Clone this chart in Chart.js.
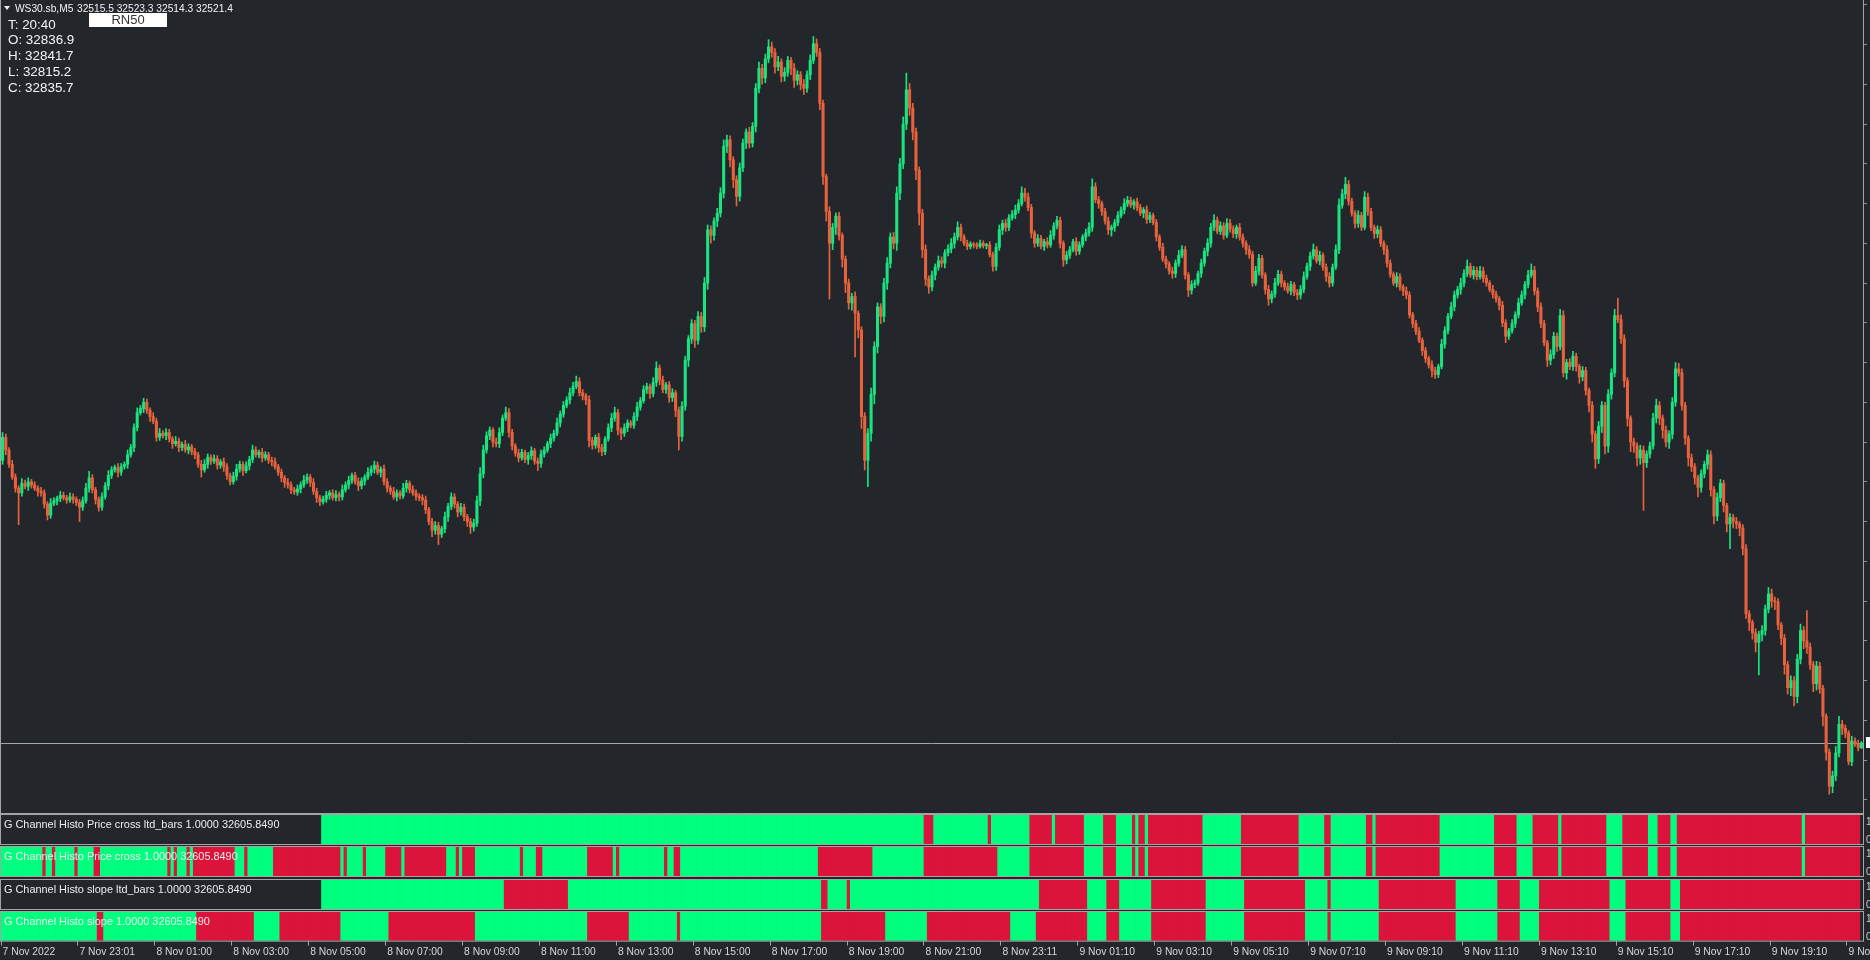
<!DOCTYPE html>
<html>
<head>
<meta charset="utf-8">
<title>WS30.sb,M5</title>
<script src="https://cdn.jsdelivr.net/npm/chart.js@4.4.1/dist/chart.umd.min.js"></script>
<style>
  html, body { margin:0; padding:0; width:1870px; height:960px; overflow:hidden; background:#23272c; }
  canvas { position:absolute; left:0; display:block; }
  .txt { position:absolute; white-space:nowrap; font-family:"Liberation Sans", Arial, sans-serif; color:#f2f2f2; }
  .pl { font-size:10.9px; line-height:12px; color:#ececec; left:4px; }
  .ax { font-size:10px; line-height:12px; color:#cfcfcf; left:1866px; }
</style>
</head>
<body>
<canvas id="main" width="1870" height="814" style="top:0px"></canvas>
<canvas id="p0" width="1870" height="31" style="top:814px"></canvas>
<canvas id="p1" width="1870" height="31" style="top:846px"></canvas>
<canvas id="p2" width="1870" height="31" style="top:879px"></canvas>
<canvas id="p3" width="1870" height="49" style="top:911px"></canvas>

<div class="txt" style="left:4px;top:6px;width:0;height:0;border-left:3.5px solid transparent;border-right:3.5px solid transparent;border-top:4px solid #f0f0f0"></div>
<div class="txt" style="left:15px;top:2.6px;font-size:10.2px;line-height:12px">WS30.sb,M5</div>
<div class="txt" style="left:77px;top:2.6px;font-size:10.2px;line-height:12px">32515.5 32523.3 32514.3 32521.4</div>
<div class="txt" style="left:89px;top:13px;width:78px;height:14px;background:#ffffff;color:#333;font-size:13px;line-height:14px;text-align:center">RN50</div>
<div class="txt" style="left:8px;top:16.5px;font-size:13.4px;line-height:15.85px">T: 20:40<br>O: 32836.9<br>H: 32841.7<br>L: 32815.2<br>C: 32835.7</div>

<div class="txt pl" style="top:817.6px">G Channel Histo Price cross ltd_bars 1.0000 32605.8490</div>
<div class="txt pl" style="top:849.6px">G Channel Histo Price cross 1.0000 32605.8490</div>
<div class="txt pl" style="top:882.6px">G Channel Histo slope ltd_bars 1.0000 32605.8490</div>
<div class="txt pl" style="top:914.6px">G Channel Histo slope 1.0000 32605.8490</div>
<div class="txt ax" style="top:816px">1</div><div class="txt ax" style="top:834px">0</div>
<div class="txt ax" style="top:848px">1</div><div class="txt ax" style="top:866px">0</div>
<div class="txt ax" style="top:881px">1</div><div class="txt ax" style="top:899px">0</div>
<div class="txt ax" style="top:913px">1</div><div class="txt ax" style="top:931px">0</div>

<script>
// ---------------- DATA ----------------
// WS30 M5 bars, 7 Nov 2022 ~21:00 -> 9 Nov 2022 ~21:20 (581 bars)
const firstOpen = 32877;
const closes = [
32906,32890,32872,32856,32842,32836,32848,32844,32850,32846,
32842,32838,32836,32822,32808,32823,32826,32829,32833,32830,
32827,32831,32828,32824,32818,32826,32842,32855,32840,32828,
32818,32831,32845,32858,32865,32868,32862,32869,32872,32884,
32893,32918,32937,32942,32950,32940,32932,32926,32906,32911,
32908,32912,32904,32898,32901,32893,32897,32890,32894,32888,
32884,32872,32865,32872,32881,32876,32879,32871,32875,32869,
32858,32850,32857,32866,32872,32864,32870,32878,32890,32884,
32887,32880,32884,32877,32875,32869,32862,32855,32849,32846,
32840,32837,32841,32846,32852,32856,32849,32838,32830,32825,
32828,32833,32836,32830,32834,32831,32840,32846,32852,32858,
32850,32845,32851,32856,32862,32866,32871,32862,32866,32850,
32842,32838,32831,32836,32832,32842,32848,32840,32836,32832,
32830,32827,32815,32800,32789,32795,32784,32791,32806,32819,
32831,32822,32812,32818,32806,32800,32793,32798,32826,32860,
32890,32908,32915,32900,32898,32912,32930,32937,32912,32895,
32886,32880,32887,32878,32883,32889,32876,32873,32885,32890,
32898,32905,32911,32924,32935,32946,32953,32962,32970,32976,
32962,32958,32953,32902,32896,32906,32893,32888,32904,32918,
32930,32937,32915,32911,32918,32924,32921,32932,32944,32952,
32966,32970,32961,32975,32993,32978,32966,32972,32956,32962,
32940,32907,32945,33003,33030,33049,33028,33058,33045,33100,
33167,33160,33178,33188,33213,33272,33280,33255,33230,33209,
33245,33276,33290,33276,33297,33345,33370,33358,33382,33397,
33390,33372,33378,33360,33365,33380,33370,33355,33362,33350,
33345,33362,33380,33401,33390,33326,33234,33190,33150,33170,
33184,33160,33130,33100,33075,33083,33062,33041,32932,32877,
32911,32960,33020,33070,33058,33100,33125,33158,33150,33213,
33250,33300,33343,33320,33290,33242,33188,33142,33105,33095,
33110,33120,33128,33125,33138,33143,33150,33158,33170,33158,
33150,33146,33149,33148,33146,33150,33147,33148,33136,33121,
33145,33167,33175,33170,33182,33186,33192,33200,33213,33208,
33195,33163,33150,33156,33146,33152,33148,33160,33172,33179,
33150,33129,33135,33142,33152,33140,33148,33158,33163,33170,
33221,33205,33200,33190,33178,33167,33170,33176,33185,33192,
33200,33204,33198,33202,33195,33188,33192,33180,33185,33176,
33158,33145,33130,33124,33115,33112,33125,33135,33142,33110,
33091,33098,33100,33112,33125,33140,33150,33170,33179,33165,
33172,33160,33175,33168,33162,33170,33158,33150,33142,33136,
33100,33115,33131,33110,33092,33080,33086,33100,33111,33100,
33095,33090,33098,33088,33085,33092,33108,33121,33134,33142,
33128,33135,33120,33108,33100,33120,33142,33198,33212,33224,
33203,33188,33175,33185,33170,33208,33190,33170,33162,33167,
33150,33142,33125,33111,33100,33108,33095,33090,33085,33060,
33049,33039,33028,33015,33005,32997,32990,32985,32995,33023,
33040,33058,33070,33085,33092,33100,33112,33121,33110,33116,
33108,33115,33106,33100,33092,33086,33080,33072,33050,33033,
33040,33049,33060,33075,33085,33098,33110,33116,33090,33070,
33049,33025,33003,33010,33033,33020,33059,32987,33000,32995,
33008,32995,32982,32990,32965,32946,32910,32879,32920,32946,
32895,32960,32987,33059,33054,33030,32977,32930,32900,32895,
32880,32890,32874,32885,32895,32930,32946,32930,32915,32900,
32910,32950,32992,32987,32946,32905,32880,32869,32855,32843,
32860,32872,32884,32840,32807,32830,32848,32820,32797,32805,
32800,32797,32792,32766,32684,32673,32660,32648,32658,32663,
32690,32709,32700,32699,32670,32653,32620,32591,32600,32580,
32627,32663,32650,32642,32620,32596,32618,32590,32555,32510,
32467,32480,32509,32545,32540,32534,32498,32524,32520,32515.5,
32521.4
];
// upper wick length (points above the body) per bar
const upWick = [
6,4,3,5,4,3,6,4,5,3,4,3,5,4,3,6,4,3,5,4,
3,5,4,3,4,5,6,8,4,3,3,5,4,6,4,3,5,4,3,6,
4,5,6,4,5,4,3,5,4,6,3,5,4,3,6,4,3,5,4,3,
4,3,5,6,4,3,5,4,3,5,4,3,5,6,4,3,5,4,6,4,
3,5,4,3,4,5,3,4,3,5,4,3,5,4,6,4,3,5,4,3,
4,5,3,4,5,3,6,4,5,3,4,5,4,3,6,4,5,4,3,5,
4,3,5,4,3,6,4,3,5,4,3,4,5,3,4,5,4,3,6,4,
5,4,3,5,4,3,4,5,6,8,6,5,4,3,5,6,4,7,5,4,
3,5,4,3,4,5,3,4,5,4,3,5,4,6,4,5,4,6,5,7,
5,4,3,5,4,3,5,4,3,5,6,7,4,3,5,4,3,5,6,4,
5,4,3,6,8,4,5,3,4,5,3,4,6,5,4,5,4,6,5,7,
6,5,4,6,7,8,6,5,4,5,6,5,4,6,5,6,8,5,6,9,
6,5,7,4,6,5,4,6,5,4,6,5,7,9,6,5,4,3,6,5,
4,5,3,4,5,4,6,3,4,5,6,8,6,5,4,6,7,5,6,8,
7,9,21,8,6,5,4,5,6,4,5,4,6,5,4,5,6,5,7,4,
3,4,3,2,3,4,3,2,4,3,5,6,4,5,4,5,6,5,8,6,
5,4,3,5,4,3,5,6,4,5,4,3,5,4,3,5,4,3,5,6,
10,5,4,3,4,5,3,4,5,4,6,5,4,3,5,4,3,5,4,3,
4,3,5,4,3,5,4,6,5,4,3,5,4,3,5,4,6,5,7,4,
5,4,6,5,4,3,5,4,3,5,4,6,5,4,3,5,4,6,5,4,
3,5,4,3,4,5,6,4,5,7,4,5,3,4,5,4,6,8,6,9,
5,4,3,6,4,7,5,4,3,5,4,3,5,4,3,5,4,3,5,4,
3,4,5,3,4,3,5,4,3,6,5,4,6,5,4,6,5,8,4,5,
4,6,5,4,3,5,4,3,5,4,3,5,4,6,5,4,6,8,5,4,
5,4,3,6,5,4,8,6,4,5,6,4,3,5,4,3,5,4,6,5,
4,6,5,8,22,6,5,4,3,5,4,6,5,4,5,6,8,5,4,5,
4,6,8,7,5,4,3,5,4,3,5,4,6,5,4,6,5,4,3,5,
4,5,3,4,5,4,3,5,4,6,5,8,6,5,4,3,5,4,6,5,
6,8,5,38,5,4,6,5,4,3,4,6,8,10,5,4,3,6,4,5,
1.9
];
// lower wick length (points below the body) per bar
const dnWick = [
5,6,4,3,5,40,4,3,5,4,3,6,4,5,6,4,3,5,4,3,
4,3,5,4,18,4,3,5,4,6,5,4,3,5,4,3,6,4,3,5,
3,5,4,3,5,4,6,3,5,4,3,5,4,6,3,5,4,3,5,4,
5,4,9,3,5,4,3,5,4,6,5,4,3,5,4,6,3,5,4,3,
4,5,3,4,5,3,4,5,6,4,5,3,4,5,3,4,5,4,6,5,
3,4,5,3,4,5,4,3,5,4,3,6,4,5,3,4,5,3,6,4,
5,4,3,5,4,3,5,4,3,5,4,6,5,4,8,5,13,4,5,6,
4,5,6,4,5,6,8,5,4,6,5,4,5,6,4,5,4,3,6,5,
4,5,3,4,6,5,4,9,5,4,3,5,4,3,5,4,3,5,4,3,
4,5,6,8,5,4,6,5,4,3,5,4,6,8,4,5,3,4,5,4,
3,5,6,4,5,6,4,5,6,5,8,17,6,5,8,6,9,5,7,6,
8,10,6,7,5,6,8,9,10,12,6,5,7,6,5,7,6,8,6,5,
6,8,5,7,6,5,8,9,6,7,8,5,6,4,5,8,10,12,70,8,
9,6,10,12,8,9,55,10,15,12,33,10,12,8,9,7,8,6,7,9,
8,6,7,9,10,12,15,10,8,8,5,6,4,5,6,4,5,6,4,5,
3,4,3,4,3,2,3,4,3,6,5,4,6,5,4,3,5,4,3,5,
4,6,5,4,3,5,4,3,5,4,6,8,5,4,3,5,4,3,5,4,
5,4,6,5,4,6,8,5,4,3,5,4,3,5,4,3,6,5,4,3,
5,4,3,5,4,6,5,4,3,5,8,5,4,3,5,4,6,5,4,3,
4,5,3,4,5,6,4,5,6,5,4,3,5,4,6,8,5,4,3,5,
4,3,5,4,6,5,4,3,5,4,3,5,4,6,5,4,3,5,4,6,
5,4,6,5,4,3,5,4,6,5,4,6,5,4,3,5,4,6,5,4,
5,4,3,6,5,4,8,5,4,3,5,4,3,5,4,6,5,4,3,5,
4,3,5,4,3,5,4,6,5,8,4,3,5,4,3,5,4,3,5,6,
5,4,8,6,5,6,4,5,8,4,5,6,8,5,6,8,10,12,6,8,
10,8,6,5,4,6,8,10,12,8,10,8,60,6,5,4,6,8,10,6,
8,6,5,4,6,8,10,6,8,12,6,5,6,8,10,6,5,8,10,31,
8,6,10,8,6,10,8,12,41,8,6,5,8,10,6,8,12,8,10,12,
8,6,10,8,6,10,8,6,12,10,10,8,6,5,8,6,4,5,3,4,
1.2
];
// x-axis labels, one every 24 bars
const timeLabels = ['7 Nov 2022','7 Nov 23:01','8 Nov 01:00','8 Nov 03:00','8 Nov 05:00','8 Nov 07:00',
  '8 Nov 09:00','8 Nov 11:00','8 Nov 13:00','8 Nov 15:00','8 Nov 17:00','8 Nov 19:00','8 Nov 21:00',
  '8 Nov 23:11','9 Nov 01:10','9 Nov 03:10','9 Nov 05:10','9 Nov 07:10','9 Nov 09:10','9 Nov 11:10',
  '9 Nov 13:10','9 Nov 15:10','9 Nov 17:10','9 Nov 19:10','9 Nov 21:10'];
const labelEvery = 24;
// histogram panels, run-length encoded per bar: [count, state] g=green(1), r=red(1), n=no value
const priceCrossLtd = [[100,'n'],[188,'g'],[3,'r'],[17,'g'],[1,'r'],[12,'g'],[7,'r'],[1,'g'],[9,'r'],[6,'g'],[4,'r'],[5,'g'],[1,'r'],[1,'g'],[2,'r'],[1,'g'],[17,'r'],[12,'g'],[18,'r'],[8,'g'],[2,'r'],[11,'g'],[2,'r'],[1,'g'],[20,'r'],[17,'g'],[7,'r'],[5,'g'],[8,'r'],[1,'g'],[14,'r'],[5,'g'],[8,'r'],[3,'g'],[4,'r'],[2,'g'],[39,'r'],[1,'g'],[17,'r'],[1,'n']];
const priceCross = [[13,'g'],[1,'r'],[2,'g'],[1,'r'],[6,'g'],[1,'r'],[5,'g'],[2,'r'],[21,'g'],[1,'r'],[1,'g'],[1,'r'],[3,'g'],[1,'r'],[1,'g'],[13,'r'],[3,'g'],[1,'r'],[8,'g'],[21,'r'],[1,'g'],[1,'r'],[5,'g'],[1,'r'],[6,'g'],[5,'r'],[1,'g'],[13,'r'],[3,'g'],[1,'r'],[1,'g'],[4,'r'],[14,'g'],[1,'r'],[4,'g'],[2,'r'],[14,'g'],[8,'r'],[1,'g'],[1,'r'],[14,'g'],[1,'r'],[2,'g'],[2,'r'],[43,'g'],[17,'r'],[16,'g'],[23,'r'],[10,'g'],[17,'r'],[6,'g'],[4,'r'],[5,'g'],[1,'r'],[1,'g'],[2,'r'],[1,'g'],[17,'r'],[12,'g'],[18,'r'],[8,'g'],[2,'r'],[11,'g'],[2,'r'],[1,'g'],[20,'r'],[17,'g'],[7,'r'],[5,'g'],[8,'r'],[1,'g'],[14,'r'],[5,'g'],[8,'r'],[3,'g'],[4,'r'],[2,'g'],[39,'r'],[1,'g'],[17,'r'],[1,'n']];
const slopeLtd = [[100,'n'],[57,'g'],[20,'r'],[79,'g'],[2,'r'],[6,'g'],[1,'r'],[59,'g'],[15,'r'],[6,'g'],[4,'r'],[10,'g'],[17,'r'],[12,'g'],[19,'r'],[7,'g'],[1,'r'],[15,'g'],[24,'r'],[13,'g'],[7,'r'],[6,'g'],[22,'r'],[5,'g'],[14,'r'],[3,'g'],[56,'r'],[1,'n']];
const slope = [[30,'g'],[2,'r'],[29,'g'],[18,'r'],[8,'g'],[19,'r'],[15,'g'],[27,'r'],[35,'g'],[13,'r'],[15,'g'],[1,'r'],[44,'g'],[20,'r'],[13,'g'],[26,'r'],[8,'g'],[16,'r'],[6,'g'],[4,'r'],[10,'g'],[17,'r'],[12,'g'],[19,'r'],[7,'g'],[1,'r'],[15,'g'],[24,'r'],[13,'g'],[7,'r'],[6,'g'],[22,'r'],[5,'g'],[14,'r'],[3,'g'],[56,'r'],[1,'n']];
const bidPrice = 32521.4;
const priceMax = 33456, priceMin = 32433.4, priceStep = 50;

// ---------------- BUILD ----------------
const N = closes.length;
if (upWick.length !== N || dnWick.length !== N) console.error('length mismatch', N, upWick.length, dnWick.length);
const labels = closes.map((_, i) => String(i));
const opens = closes.map((c, i) => i === 0 ? firstOpen : closes[i - 1]);
const highs = closes.map((c, i) => Math.max(opens[i], c) + upWick[i]);
const lows  = closes.map((c, i) => Math.min(opens[i], c) - dnWick[i]);
const UP = '#19e480', DN = '#e8623d';
const candleColors = closes.map((c, i) => c >= opens[i] ? UP : DN);
const bodies = closes.map((c, i) => [opens[i], c]);
const wicks = closes.map((c, i) => [lows[i], highs[i]]);

Chart.defaults.font.family = '"Liberation Sans", Arial, sans-serif';
Chart.defaults.animation = false;

const FRAME = '#a4a4a4';
const frame = {
  id: 'frame',
  afterDraw(chart) {
    const { ctx, chartArea: a } = chart;
    ctx.save();
    ctx.strokeStyle = FRAME; ctx.lineWidth = 1;
    ctx.strokeRect(a.left - 0.5, a.top - 0.5, a.right - a.left + 1, a.bottom - a.top + 1);
    ctx.restore();
  }
};
const bid = {
  id: 'bid',
  beforeDatasetsDraw(chart) {
    const { ctx, chartArea: a, scales: { y } } = chart;
    const py = Math.round(y.getPixelForValue(bidPrice)) + 0.5;
    ctx.save();
    ctx.strokeStyle = '#a2a7ac'; ctx.lineWidth = 1;
    ctx.beginPath(); ctx.moveTo(0, py); ctx.lineTo(a.right, py); ctx.stroke();
    ctx.fillStyle = '#ffffff';
    ctx.fillRect(a.right + 3, py - 6.5, 8, 11);
    ctx.restore();
  }
};

new Chart(document.getElementById('main'), {
  type: 'bar',
  data: {
    labels,
    datasets: [
      { data: bodies, backgroundColor: candleColors, barThickness: 2.4, minBarLength: 1, grouped: false, borderWidth: 0 },
      { data: wicks, backgroundColor: candleColors, barThickness: 1, grouped: false, borderWidth: 0 }
    ]
  },
  options: {
    responsive: false, animation: false,
    layout: { padding: { left: 1, right: 0, top: 0, bottom: 1 } },
    plugins: { legend: { display: false }, tooltip: { enabled: false } },
    scales: {
      x: { display: false, offset: true },
      y: {
        position: 'right', min: priceMin, max: priceMax,
        afterFit(s) { s.width = 7; },
        grid: { drawOnChartArea: false, drawTicks: true, tickLength: 4, color: '#8e8e8e' },
        border: { display: false },
        ticks: { display: false, stepSize: priceStep, includeBounds: false }
      }
    }
  },
  plugins: [bid, frame]
});

const GREEN = '#00ff7f', RED = '#dc143c';
function expand(runs) {
  const vals = [], cols = [];
  runs.forEach(([n, k]) => {
    for (let j = 0; j < n; j++) { vals.push(k === 'n' ? null : 1); cols.push(k === 'r' ? RED : GREEN); }
  });
  return { vals, cols };
}
function panel(id, runs, withAxis) {
  const { vals, cols } = expand(runs);
  new Chart(document.getElementById(id), {
    type: 'bar',
    data: { labels, datasets: [{ data: vals, backgroundColor: cols, barPercentage: 1, categoryPercentage: 1, borderWidth: 0 }] },
    options: {
      responsive: false, animation: false,
      layout: { padding: { left: 1, right: 7, top: 1, bottom: withAxis ? 2 : 1 } },
      plugins: { legend: { display: false }, tooltip: { enabled: false } },
      scales: {
        y: { display: false, min: 0, max: 1 },
        x: withAxis ? {
          display: true, offset: true,
          grid: { drawOnChartArea: false, drawTicks: true, tickLength: 5,
                  color: (c) => (c.index % labelEvery === 0 ? FRAME : 'rgba(0,0,0,0)') },
          border: { display: false },
          ticks: {
            autoSkip: false, maxRotation: 0, minRotation: 0, align: 'start', padding: 0,
            color: '#d6d6d6', font: { size: 10.3 },
            callback: (v, i) => (i % labelEvery === 0 ? (timeLabels[i / labelEvery] || '') : '')
          }
        } : { display: false, offset: true }
      }
    },
    plugins: [frame]
  });
}
panel('p0', priceCrossLtd, false);
panel('p1', priceCross, false);
panel('p2', slopeLtd, false);
panel('p3', slope, true);
</script>
</body>
</html>
